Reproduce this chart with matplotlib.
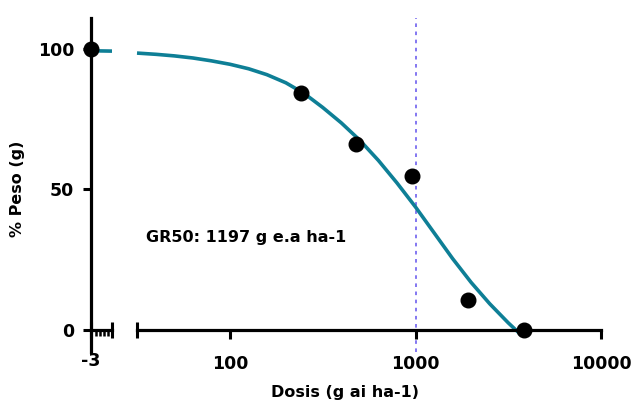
import matplotlib
matplotlib.use("Agg")
import matplotlib.pyplot as plt
from matplotlib.ticker import FixedLocator, NullFormatter

plt.rcParams['axes.unicode_minus'] = False
plt.rcParams['font.family'] = 'DejaVu Sans'

# measured doses (g ai/ha) and % weight
dose = [240, 480, 960, 1920, 3840]
peso = [84.3, 66.2, 54.7, 10.7, 0.0]
# untreated control, drawn on the log10 = -3 segment
ctrl_log = [-3.0]
ctrl_peso = [100.0]

# fitted dose-response curve
fit_dose = [31.5, 40, 50, 63, 79, 100, 126, 158, 200, 251, 316, 398, 501, 631,
            794, 1000, 1259, 1585, 1995, 2512, 3162, 3750]
fit_peso = [98.6, 98.15, 97.6, 96.85, 95.85, 94.6, 93.0, 90.9, 88.0, 84.2, 79.2,
            73.7, 67.5, 60.3, 52.3, 43.7, 34.5, 25.3, 16.8, 9.2, 2.4, -2.2]
# flat part of the fit over the control segment
fit_low_log = [-2.8, -2.0]
fit_low_peso = [99.4, 99.3]

gr50 = 1197
ref_dose = 1000

teal = '#0e7f96'
W, H = 633, 401
fig = plt.figure(figsize=(W / 100, H / 100), dpi=100)

bot = 49 / H
hgt = (382.7 - 49) / H
ax0 = fig.add_axes([91 / W, bot, (112 - 91) / W, hgt])
ax = fig.add_axes([137 / W, bot, (601 - 137) / W, hgt], sharey=ax0)

for a in (ax0, ax):
    a.set_facecolor('none')
    a.spines['top'].set_visible(False)
    a.spines['right'].set_visible(False)
    a.spines['bottom'].set_position(('data', 0))
    a.spines['bottom'].set_linewidth(2.3)
    a.spines['left'].set_linewidth(2.3)

ax.spines['left'].set_visible(False)
ax0.set_ylim(-8, 111)

# control segment
ax0.set_xlim(-3, -2)
ax0.xaxis.set_major_locator(FixedLocator([-3, -2]))
ax0.set_xticklabels(['-3', ''])
ax0.xaxis.set_minor_locator(FixedLocator([-2.78, -2.59, -2.4, -2.21]))
ax0.tick_params(axis='x', which='major', direction='inout', length=12, width=2.2,
                pad=10, labelsize=12.5)
ax0.tick_params(axis='x', which='minor', direction='out', length=4.5, width=1.8)
ax0.set_yticks([0, 50, 100])
ax0.tick_params(axis='y', direction='out', length=6, width=2.2, pad=6, labelsize=12.5)
for lab in ax0.get_xticklabels() + ax0.get_yticklabels():
    lab.set_fontweight('bold')

ax0.plot(fit_low_log, fit_low_peso, color=teal, lw=2.6, solid_capstyle='butt', zorder=2)
ax0.plot(ctrl_log, ctrl_peso, 'o', color='black', ms=10.5, clip_on=False, zorder=5)

# main log segment
ax.set_xscale('log')
ax.set_xlim(31.5, 10000)
ax.xaxis.set_major_locator(FixedLocator([100, 1000, 10000]))
ax.xaxis.set_minor_locator(FixedLocator([31.5]))
ax.xaxis.set_minor_formatter(NullFormatter())
ax.set_xticklabels(['100', '1000', '10000'])
ax.tick_params(axis='x', which='major', direction='out', length=6.5, width=2.2,
               pad=12, labelsize=12.5)
ax.tick_params(axis='x', which='minor', direction='inout', length=12, width=2.2)
ax.tick_params(axis='y', left=False, labelleft=False)
for lab in ax.get_xticklabels():
    lab.set_fontweight('bold')

ax.axvline(ref_dose, color='#7a6cf0', lw=1.3, ls=(0, (2, 2.5)), zorder=1)
ax.plot(fit_dose, fit_peso, color=teal, lw=2.6, solid_capstyle='butt',
        solid_joinstyle='round', zorder=2, clip_on=False)
ax.plot(dose, peso, 'o', color='black', ms=10.5, clip_on=False, zorder=5)

ax.text(35.3, 33, 'GR50: %d g e.a ha-1' % gr50, fontsize=11.5, fontweight='bold',
        va='center', ha='left')

fig.text(345 / W, 1 - 392 / H, 'Dosis (g ai ha-1)', fontsize=11.5, fontweight='bold',
         ha='center', va='center')
fig.text(17.5 / W, 1 - 189 / H, '% Peso (g)', fontsize=11.5, fontweight='bold',
         ha='center', va='center', rotation=90)

fig.savefig('out.png', dpi=100)
